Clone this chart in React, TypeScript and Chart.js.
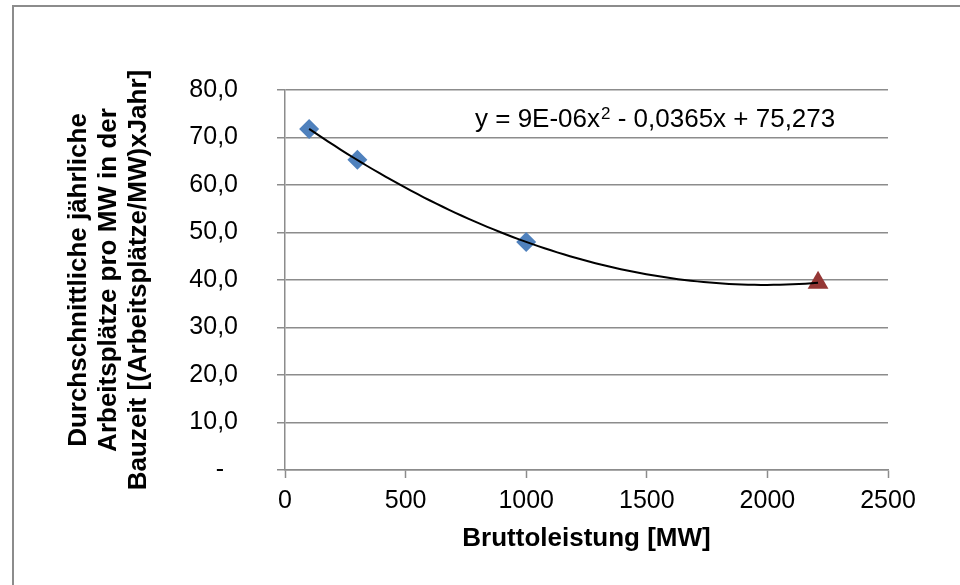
import React, { useEffect, useRef } from "react";
import { Chart, registerables } from "chart.js";

Chart.register(...registerables);

// ---- Data ----
const diamondX = [100, 300, 1000];
const diamondY = [71.8, 65.3, 48.0];
const triangleX = [2210];
const triangleY = [39.4];

const xTickLabels = ["0", "500", "1000", "1500", "2000", "2500"];
const yTickLabels = ["-  ", "10,0", "20,0", "30,0", "40,0", "50,0", "60,0", "70,0", "80,0"];

const equationParts = ["y = 9E-06x", "2", " - 0,0365x + 75,273"];
const xTitle = "Bruttoleistung [MW]";
const yTitle = [
  "Durchschnittliche jährliche",
  "Arbeitsplätze pro MW in der",
  "Bauzeit [(Arbeitsplätze/MW)xJahr]",
];

const FONT = "'Liberation Sans', Arial, sans-serif";
const GRID = "#8c8c8c";

// Least-squares quadratic trendline (as Excel computes it) over all points
function quadFit(xs: number[], ys: number[]) {
  const s = [0, 0, 0, 0, 0];
  const t = [0, 0, 0];
  for (let i = 0; i < xs.length; i++) {
    const x = xs[i] / 1000;
    for (let k = 0; k < 5; k++) s[k] += Math.pow(x, k);
    for (let k = 0; k < 3; k++) t[k] += ys[i] * Math.pow(x, k);
  }
  const m = [
    [s[0], s[1], s[2], t[0]],
    [s[1], s[2], s[3], t[1]],
    [s[2], s[3], s[4], t[2]],
  ];
  for (let c = 0; c < 3; c++) {
    for (let r = c + 1; r < 3; r++) {
      const f = m[r][c] / m[c][c];
      for (let k = c; k < 4; k++) m[r][k] -= f * m[c][k];
    }
  }
  const a = [0, 0, 0];
  for (let r = 2; r >= 0; r--) {
    let v = m[r][3];
    for (let k = r + 1; k < 3; k++) v -= m[r][k] * a[k];
    a[r] = v / m[r][r];
  }
  return (x: number) => {
    const u = x / 1000;
    return a[0] + a[1] * u + a[2] * u * u;
  };
}

const allX = [...diamondX, ...triangleX];
const allY = [...diamondY, ...triangleY];

function trendPoints() {
  const f = quadFit(allX, allY);
  const x0 = Math.min(...allX);
  const x1 = Math.max(...allX);
  const n = 80;
  const pts: { x: number; y: number }[] = [];
  for (let i = 0; i <= n; i++) {
    const x = x0 + ((x1 - x0) * i) / n;
    pts.push({ x, y: f(x) });
  }
  return pts;
}

const decorPlugin = {
  id: "decor",
  beforeDraw(chart: any) {
    const ctx = chart.ctx;
    ctx.save();
    ctx.fillStyle = "#ffffff";
    ctx.fillRect(0, 0, chart.width, chart.height);
    ctx.strokeStyle = GRID;
    ctx.lineWidth = 2;
    ctx.strokeRect(13, 6, 1000, 1000);
    ctx.restore();
  },
  afterDatasetsDraw(chart: any) {
    const { ctx, chartArea } = chart;
    ctx.save();
    ctx.fillStyle = "#000000";
    ctx.textBaseline = "alphabetic";
    ctx.textAlign = "left";
    let x = chartArea.left + 190;
    const y = chartArea.top + 37;
    ctx.font = `26px ${FONT}`;
    ctx.fillText(equationParts[0], x, y);
    x += ctx.measureText(equationParts[0]).width;
    ctx.font = `17px ${FONT}`;
    ctx.fillText(equationParts[1], x + 1, y - 8);
    x += ctx.measureText(equationParts[1]).width + 1;
    ctx.font = `26px ${FONT}`;
    ctx.fillText(equationParts[2], x, y);
    ctx.restore();
  },
};

export default function App() {
  const ref = useRef<HTMLCanvasElement>(null);

  useEffect(() => {
    if (!ref.current) return;
    const chart = new Chart(ref.current, {
      type: "scatter",
      data: {
        datasets: [
          {
            type: "line",
            label: "Trend",
            data: trendPoints(),
            borderColor: "#000000",
            borderWidth: 2,
            pointRadius: 0,
            fill: false,
            tension: 0,
          } as any,
          {
            label: "Punkte",
            data: diamondX.map((x, i) => ({ x, y: diamondY[i] })),
            pointStyle: "rectRot",
            pointRadius: 10,
            backgroundColor: "#4F81BD",
            borderColor: "#4F81BD",
            borderWidth: 0,
          },
          {
            label: "Punkt",
            data: triangleX.map((x, i) => ({ x, y: triangleY[i] })),
            pointStyle: "triangle",
            pointRadius: 12,
            backgroundColor: "#953735",
            borderColor: "#953735",
            borderWidth: 0,
          },
        ],
      },
      options: {
        responsive: false,
        animation: false,
        devicePixelRatio: 1,
        layout: { padding: { left: 0, top: 90, right: 72, bottom: 0 } },
        plugins: { legend: { display: false }, tooltip: { enabled: false } },
        scales: {
          x: {
            type: "linear",
            min: 0,
            max: 2500,
            ticks: {
              stepSize: 500,
              padding: 8,
              color: "#000000",
              font: { family: FONT, size: 25 },
              callback: (v: any) => xTickLabels[Math.round(Number(v) / 500)],
            },
            grid: {
              drawOnChartArea: false,
              drawTicks: true,
              tickLength: 8,
              tickColor: GRID,
              tickWidth: 1.5,
            },
            border: { display: true, color: GRID, width: 1.5 },
            title: {
              display: true,
              text: xTitle,
              color: "#000000",
              font: { family: FONT, size: 26, weight: "bold", lineHeight: 1.2 },
              padding: { top: 0, bottom: 31 },
            },
            afterFit: (scale: any) => {
              scale.height = 115;
            },
          },
          y: {
            type: "linear",
            min: 0,
            max: 80,
            ticks: {
              stepSize: 10,
              padding: 39,
              color: "#000000",
              font: { family: FONT, size: 25 },
              callback: (v: any) => yTickLabels[Math.round(Number(v) / 10)],
            },
            grid: {
              color: GRID,
              lineWidth: 1.5,
              drawTicks: true,
              tickLength: 8,
              tickColor: GRID,
            },
            border: { display: true, color: GRID, width: 1.5 },
            title: {
              display: true,
              text: yTitle,
              color: "#000000",
              font: { family: FONT, size: 26, weight: "bold", lineHeight: 30 / 26 },
              padding: { top: 64, bottom: 0 },
            },
            afterFit: (scale: any) => {
              scale.width = 285;
            },
          },
        },
      } as any,
      plugins: [decorPlugin],
    });
    return () => chart.destroy();
  }, []);

  return (
    <div
      style={{
        position: "absolute",
        left: 0,
        top: 0,
        width: 960,
        height: 585,
        background: "#ffffff",
        overflow: "hidden",
      }}
    >
      <canvas ref={ref} width={960} height={585} style={{ display: "block" }} />
    </div>
  );
}
